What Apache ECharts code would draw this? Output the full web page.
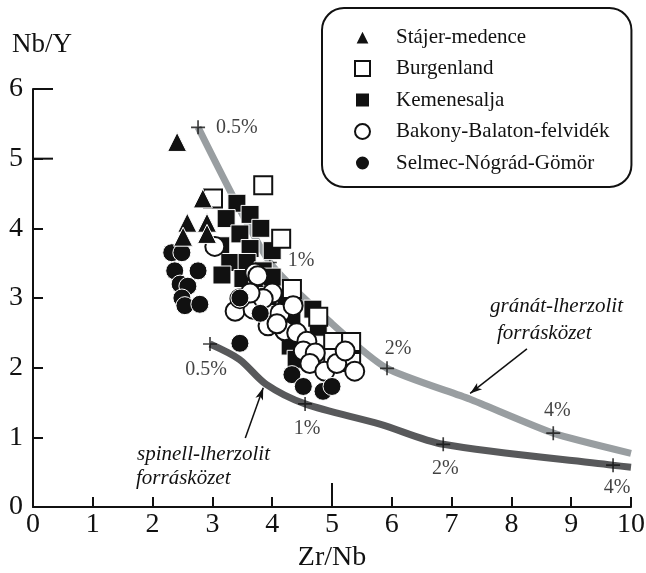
<!DOCTYPE html>
<html><head><meta charset="utf-8">
<script src="https://cdn.jsdelivr.net/npm/echarts@6/dist/echarts.min.js"></script>
<style>html,body{margin:0;padding:0;background:#fff}#c{width:646px;height:573px}</style>
</head><body><div id="c"></div>
<script>
// ---- data (Zr/Nb, Nb/Y) ----
const seriesNames = ['Stájer-medence','Burgenland','Kemenesalja','Bakony-Balaton-felvidék','Selmec-Nógrád-Gömör'];
const stajer = [[2.41,5.24],[2.84,4.43],[2.58,4.08],[2.91,4.08],[2.51,3.88],[2.91,3.92]];
const burgenland = [[3.01,4.43],[3.85,4.62],[4.15,3.85],[4.33,3.13],[4.77,2.73],[5.02,2.37],[5.32,2.37],[5.32,2.08],[5.02,2.14]];
const kemenesalja = [[3.41,4.36],[3.23,4.14],[3.63,4.20],[3.81,4.00],[3.46,3.92],[3.14,3.75],[3.63,3.71],[4.00,3.68],[3.29,3.51],[3.58,3.51],[3.85,3.39],[3.16,3.33],[3.51,3.28],[3.76,3.13],[4.00,3.30],[4.13,2.96],[4.68,2.84],[4.33,2.70],[4.30,2.31],[4.40,2.12],[4.77,2.58],[3.93,3.02]];
const bakony = [[3.04,3.74],[3.71,3.36],[3.76,3.32],[4.00,3.07],[3.38,2.81],[3.68,2.84],[3.85,2.99],[4.13,2.78],[3.93,2.60],[4.21,2.53],[4.41,2.50],[4.58,2.38],[4.35,2.89],[4.52,2.24],[4.72,2.21],[4.63,2.06],[4.88,1.95],[5.08,2.06],[5.38,1.95],[5.22,2.24],[4.08,2.63],[3.46,2.99],[3.63,3.07]];
const selmec = [[2.32,3.65],[2.49,3.65],[2.37,3.39],[2.76,3.39],[2.46,3.20],[2.59,3.17],[2.49,3.00],[2.54,2.89],[2.79,2.91],[3.46,3.00],[3.80,2.78],[3.46,2.35],[4.33,1.90],[4.52,1.73],[4.85,1.66],[5.00,1.73]];
// melting curves
const garnetCurve = [[2.76,5.45],[3.96,3.51],[5.0,2.63],[5.92,1.99],[7.3,1.55],[8.70,1.06],[10.0,0.77]];
const spinelCurve = [[2.96,2.34],[3.45,2.12],[3.9,1.76],[4.55,1.48],[5.8,1.19],[6.86,0.90],[9.70,0.60],[10.0,0.57]];
const garnetPct = [[2.76,5.45],[3.96,3.51],[5.92,1.99],[8.70,1.06]];
const spinelPct = [[2.96,2.34],[4.55,1.48],[6.86,0.90],[9.70,0.60]];
const garnetPctLabels = ['0.5%','1%','2%','4%'];
const spinelPctLabels = ['0.5%','1%','2%','4%'];
const garnetArrow = [[8.26,2.27],[7.31,1.63]];
const spinelArrow = [[3.55,0.99],[3.85,1.71]];
const garnetText = ['gránát-lherzolit','forrásközet'];
const spinelText = ['spinell-lherzolit','forrásközet'];
const xLabel = 'Zr/Nb', yLabel = 'Nb/Y';
const majorX = [5], majorY = [5,6];

// ---- styling ----
const FONT = '"Liberation Serif","DejaVu Serif",serif';
const INK = '#111';
const PLUS = 'path://M0,4.4H10V5.6H0Z M4.4,0H5.6V10H4.4Z';
const garnetLabelPos = [['right',[0,0]],['right',[0,-2]],['top',[11,2]],['top',[4,0]]];
const spinelLabelPos = [['bottom',[-4,4]],['bottom',[2,3]],['bottom',[2,2]],['bottom',[4,1]]];

function pctData(pts, labels, pos){
  return pts.map((p,i)=>({value:p,label:{show:true,formatter:labels[i],position:pos[i][0],offset:pos[i][1],distance:pos[i][0]==='right'?11:5,fontFamily:FONT,fontSize:20,color:INK}}));
}
function arrowLine(a){
  return {silent:true,symbol:['none','arrow'],symbolSize:[6,12],label:{show:false},
    lineStyle:{color:INK,width:1.5,type:'solid'},emphasis:{disabled:true},
    data:[[{coord:a[0]},{coord:a[1]}]]};
}
const axisCommon = {
  type:'value', splitLine:{show:false},
  axisLine:{lineStyle:{color:INK,width:2}},
  axisTick:{inside:true,length:10,lineStyle:{color:INK,width:2}},
};
const chart = echarts.init(document.getElementById('c'));
chart.setOption({
  animation:false,
  backgroundColor:'#fff',
  grid:{left:33,right:15,top:89,bottom:66,outerBoundsMode:'none',containLabel:false},
  xAxis:Object.assign({},axisCommon,{min:0,max:10,interval:1,
    name:xLabel,nameLocation:'middle',nameGap:37,
    nameTextStyle:{fontFamily:FONT,fontSize:28,color:INK},
    axisLabel:{fontFamily:FONT,fontSize:28,color:INK,margin:4}}),
  yAxis:Object.assign({},axisCommon,{min:0,max:6,interval:1,
    name:yLabel,nameLocation:'end',nameGap:31,
    nameTextStyle:{fontFamily:FONT,fontSize:27,color:INK,padding:[0,0,0,18]},
    axisLabel:{fontFamily:FONT,fontSize:28,color:INK,margin:10}}),
  legend:{
    data:seriesNames, orient:'vertical', left:322, top:8,
    padding:[18,22,13,32], itemGap:9.5, itemWidth:15, itemHeight:15,
    borderColor:INK, borderWidth:2, borderRadius:22, backgroundColor:'#fff',
    textStyle:{fontFamily:FONT,fontSize:21,color:INK,lineHeight:22,padding:[0,0,0,21]},
    selectedMode:false
  },
  series:[
    {type:'line',name:'garnet',data:garnetCurve,symbol:'none',smooth:0.2,
      lineStyle:{color:'#999ea1',width:7},z:1,silent:true,markLine:arrowLine(garnetArrow)},
    {type:'line',name:'spinel',data:spinelCurve,symbol:'none',smooth:0.3,
      lineStyle:{color:'#58595b',width:7},z:1,silent:true,markLine:arrowLine(spinelArrow)},
    {type:'scatter',name:'garnetPct',data:pctData(garnetPct,garnetPctLabels,garnetLabelPos),
      symbol:PLUS,symbolSize:14,itemStyle:{color:INK},z:2,silent:true},
    {type:'scatter',name:'spinelPct',data:pctData(spinelPct,spinelPctLabels,spinelLabelPos),
      symbol:PLUS,symbolSize:14,itemStyle:{color:INK},z:2,silent:true},
    {type:'scatter',name:seriesNames[2],data:kemenesalja,symbol:'rect',symbolSize:18,
      itemStyle:{color:INK,borderColor:'#fff',borderWidth:1,opacity:1},z:3},
    {type:'scatter',name:seriesNames[1],data:burgenland,symbol:'rect',symbolSize:18,
      itemStyle:{color:'#fff',borderColor:INK,borderWidth:2,opacity:1},z:4},
    {type:'scatter',name:seriesNames[3],data:bakony,symbol:'circle',symbolSize:19,
      itemStyle:{color:'#fff',borderColor:INK,borderWidth:2,opacity:1},z:5},
    {type:'scatter',name:seriesNames[4],data:selmec,symbol:'circle',symbolSize:18,
      itemStyle:{color:INK,borderColor:'#fff',borderWidth:1,opacity:1},z:6},
    {type:'scatter',name:seriesNames[0],data:stajer,symbol:'triangle',symbolSize:19,
      itemStyle:{color:INK,borderColor:'#fff',borderWidth:1,opacity:1},z:7}
  ]
});
// annotations + longer major ticks, positioned through the chart's own scales
const px = v => chart.convertToPixel({gridIndex:0}, v);
const g = [];
const textAt = (txt, x, y) => g.push({type:'text',x:x,y:y,style:{text:txt,font:'italic 21px '+FONT,fill:INK,textVerticalAlign:'top'}});
textAt(garnetText[0], 490, 296); textAt(garnetText[1], 497, 323);
textAt(spinelText[0], 137, 444); textAt(spinelText[1], 136, 468);
majorX.forEach(v=>{const p=px([v,0]); g.push({type:'line',shape:{x1:p[0],y1:p[1],x2:p[0],y2:p[1]-24},style:{stroke:INK,lineWidth:2}});});
majorY.forEach(v=>{const p=px([0,v]); g.push({type:'line',shape:{x1:p[0],y1:p[1],x2:p[0]+20,y2:p[1]},style:{stroke:INK,lineWidth:2}});});
chart.setOption({graphic:g});
</script></body></html>
